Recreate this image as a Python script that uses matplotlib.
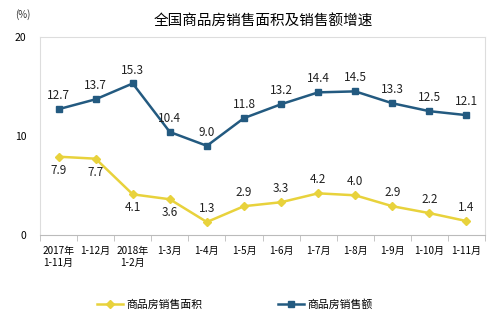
import matplotlib.pyplot as plt

plt.rcParams['font.family'] = ['Noto Sans CJK SC', 'DejaVu Sans']

# 月份及两项增速（%）
months = ['2017年\n1-11月', '1-12月', '2018年\n1-2月', '1-3月', '1-4月', '1-5月',
          '1-6月', '1-7月', '1-8月', '1-9月', '1-10月', '1-11月']
area = [7.9, 7.7, 4.1, 3.6, 1.3, 2.9, 3.3, 4.2, 4.0, 2.9, 2.2, 1.4]
sales = [12.7, 13.7, 15.3, 10.4, 9.0, 11.8, 13.2, 14.4, 14.5, 13.3, 12.5, 12.1]
area_below = [True, True, True, True] + [False] * 8

blue = '#235a80'
yellow = '#e8d23c'

fig = plt.figure(figsize=(5, 3.24), dpi=100)
ax = fig.add_axes([0.08, 0.275, 0.89, 0.611])

x = list(range(len(months)))
ax.plot(x, area, color=yellow, lw=1.8, marker='D', ms=4, label='商品房销售面积')
ax.plot(x, sales, color=blue, lw=1.8, marker='s', ms=4, label='商品房销售额')

for i, v in enumerate(sales):
    ax.annotate(f'{v:.1f}', (i, v), xytext=(0, 5), textcoords='offset points',
                ha='center', va='bottom', fontsize=8.5, color='#222222')
for i, v in enumerate(area):
    dy = -5 if area_below[i] else 5
    ax.annotate(f'{v:.1f}', (i, v), xytext=(0, dy), textcoords='offset points',
                ha='center', va='top' if area_below[i] else 'bottom',
                fontsize=8.5, color='#222222')

ax.set_xlim(-0.5, len(months) - 0.5)
ax.set_ylim(0, 20)
ax.set_yticks([0, 10, 20])
ax.set_xticks(x)
ax.set_xticklabels(months, fontsize=7.2, va='top', linespacing=1.2)
ax.set_xticks([i - 0.5 for i in range(len(months) + 1)], minor=True)
ax.tick_params(axis='x', which='major', length=0, pad=8)
ax.tick_params(axis='x', which='minor', length=4, color='#bbbbbb')
ax.tick_params(axis='y', length=0, labelsize=7.5, pad=10)
for lab in ax.get_xticklabels():
    lab.set_ha('center')

for s in ['top', 'right', 'left']:
    ax.spines[s].set_color('#dddddd')
ax.spines['bottom'].set_color('#bbbbbb')

fig.text(0.526, 0.932, '全国商品房销售面积及销售额增速', ha='center', va='center', fontsize=10.5)
fig.text(0.045, 0.955, '(%)', ha='center', va='center', fontsize=7, color='#333333')

fig.legend(loc='center', bbox_to_anchor=(0.47, 0.06), ncol=2, frameon=False,
           fontsize=7.8, columnspacing=7, handlelength=2.4, handletextpad=0.3)

fig.savefig('out.png', dpi=100)
